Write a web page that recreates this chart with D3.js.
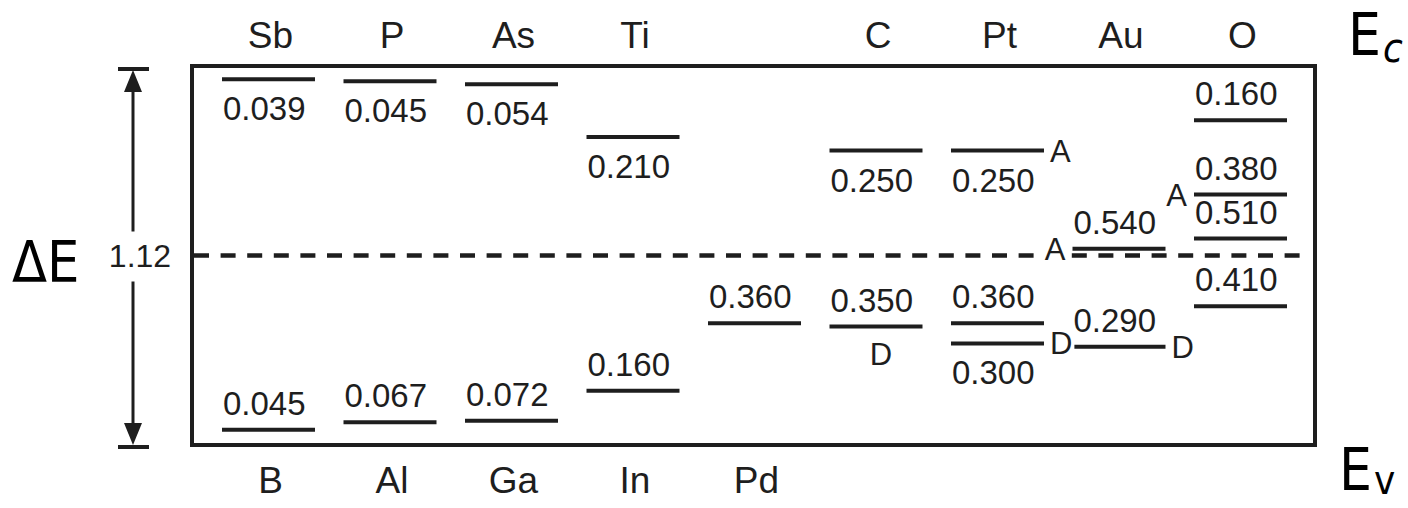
<!DOCTYPE html>
<html>
<head>
<meta charset="utf-8">
<script src="https://cdn.jsdelivr.net/npm/d3@7"></script>
<style>
  html, body { margin: 0; padding: 0; background: #fff; }
  svg { display: block; }
</style>
</head>
<body>
<svg id="chart" width="1408" height="508"></svg>
<script>
// Silicon band gap (eV)
const bandGap = 1.12;

// Impurity names above the box (measured from Ec) and below it (from Ev)
const topElements = ["Sb", "P", "As", "Ti", "", "C", "Pt", "Au", "O"];
const bottomElements = ["B", "Al", "Ga", "In", "Pd", "", "", "", ""];

// Levels near the conduction band: depth below Ec
const condLevels = [
    { col: 0, e: 0.039, place: "below" },
    { col: 1, e: 0.045, place: "below" },
    { col: 2, e: 0.054, place: "below" },
    { col: 3, e: 0.210, place: "below" },
    { col: 5, e: 0.250, place: "below" },
    { col: 6, e: 0.250, place: "below" },
    { col: 7, e: 0.540, place: "above" },
    { col: 8, e: 0.160, place: "above" },
    { col: 8, e: 0.380, place: "above" },
    { col: 8, e: 0.510, place: "above" }
];

// Levels near the valence band: height above Ev
const valLevels = [
    { col: 0, e: 0.045, place: "above" },
    { col: 1, e: 0.067, place: "above" },
    { col: 2, e: 0.072, place: "above" },
    { col: 3, e: 0.160, place: "above" },
    { col: 4, e: 0.360, place: "above" },
    { col: 5, e: 0.350, place: "above" },
    { col: 6, e: 0.360, place: "above" },
    { col: 6, e: 0.300, place: "below" },
    { col: 7, e: 0.290, place: "above" },
    { col: 8, e: 0.410, place: "above" }
];

// Acceptor / donor tags attached to some levels
const tags = [
    { col: 6, band: "c", e: 0.250, text: "A", side: "right" },
    { col: 7, band: "c", e: 0.540, text: "A", side: "left" },
    { col: 8, band: "c", e: 0.380, text: "A", side: "left" },
    { col: 5, band: "v", e: 0.350, text: "D", side: "below" },
    { col: 6, band: "v", e: 0.300, text: "D", side: "right" },
    { col: 7, band: "v", e: 0.290, text: "D", side: "right" }
];

const svg = d3.select("#chart");
const ink = "#1e1e1e";
const font = "'Liberation Sans', Arial, sans-serif";

const box = { left: 192, right: 1315, top: 66, bottom: 445 };

const x = d3.scaleBand()
    .domain(d3.range(topElements.length))
    .range([222, 1287])
    .paddingInner(0.2346)
    .paddingOuter(0);

const y = d3.scaleLinear()
    .domain([0, bandGap])
    .range([box.bottom, box.top]);

// all levels as energy above Ev
const levels = condLevels.map(d => ({ ...d, band: "c", ev: bandGap - d.e }))
    .concat(valLevels.map(d => ({ ...d, band: "v", ev: d.e })));

// frame
svg.append("rect")
    .attr("x", box.left)
    .attr("y", box.top)
    .attr("width", box.right - box.left)
    .attr("height", box.bottom - box.top)
    .attr("fill", "none")
    .attr("stroke", ink)
    .attr("stroke-width", 4);

// mid-gap line
svg.append("line")
    .attr("x1", box.left + 2)
    .attr("x2", box.right - 4)
    .attr("y1", y(bandGap / 2))
    .attr("y2", y(bandGap / 2))
    .attr("stroke", ink)
    .attr("stroke-width", 4.5)
    .attr("stroke-dasharray", "15,11.6");

// energy levels
svg.selectAll(".level")
    .data(levels)
    .enter()
    .append("line")
    .attr("class", "level")
    .attr("x1", d => x(d.col))
    .attr("x2", d => x(d.col) + x.bandwidth())
    .attr("y1", d => y(d.ev))
    .attr("y2", d => y(d.ev))
    .attr("stroke", ink)
    .attr("stroke-width", 4);

svg.selectAll(".levelText")
    .data(levels)
    .enter()
    .append("text")
    .attr("class", "levelText")
    .attr("x", d => x(d.col) + 1)
    .attr("y", d => y(d.ev) + (d.place === "below" ? 41 : -15))
    .attr("fill", ink)
    .style("font-family", font)
    .style("font-size", "33px")
    .text(d => d.e.toFixed(3));

// A / D tags (white backing so the mid-gap dashes break around them)
const tagG = svg.selectAll(".tag")
    .data(tags)
    .enter()
    .append("g")
    .attr("class", "tag");

tagG.append("text")
    .attr("x", d => {
        if (d.side === "right") return x(d.col) + x.bandwidth() + 6;
        if (d.side === "left") return x(d.col) - 7;
        return x(d.col) + x.bandwidth() / 2 + 5;
    })
    .attr("y", d => {
        const ly = y(d.band === "c" ? bandGap - d.e : d.e);
        return d.side === "below" ? ly + 38 : ly + 11;
    })
    .attr("text-anchor", d => d.side === "left" ? "end" : (d.side === "below" ? "middle" : "start"))
    .attr("fill", ink)
    .style("font-family", font)
    .style("font-size", "31px")
    .text(d => d.text);

tagG.each(function() {
    const g = d3.select(this);
    const bb = g.select("text").node().getBBox();
    g.insert("rect", "text")
        .attr("x", bb.x - 5)
        .attr("y", bb.y + 4)
        .attr("width", bb.width + 7)
        .attr("height", bb.height - 6)
        .attr("fill", "#fff");
});

// element names
svg.selectAll(".topName")
    .data(topElements)
    .enter()
    .append("text")
    .attr("class", "topName")
    .attr("x", (d, i) => x(i) + x.bandwidth() / 2 + 2)
    .attr("y", 48)
    .attr("text-anchor", "middle")
    .attr("fill", ink)
    .style("font-family", font)
    .style("font-size", "37px")
    .text(d => d);

svg.selectAll(".bottomName")
    .data(bottomElements)
    .enter()
    .append("text")
    .attr("class", "bottomName")
    .attr("x", (d, i) => x(i) + x.bandwidth() / 2 + 2)
    .attr("y", 493)
    .attr("text-anchor", "middle")
    .attr("fill", ink)
    .style("font-family", font)
    .style("font-size", "37px")
    .text(d => d);

// band gap arrow
const ax = 133;
const yTop = y(bandGap), yBot = y(0);
const midY = y(bandGap / 2);

svg.append("line")
    .attr("x1", ax - 15).attr("x2", ax + 16)
    .attr("y1", yTop + 3).attr("y2", yTop + 3)
    .attr("stroke", ink).attr("stroke-width", 4);
svg.append("line")
    .attr("x1", ax - 15).attr("x2", ax + 16)
    .attr("y1", yBot + 2).attr("y2", yBot + 2)
    .attr("stroke", ink).attr("stroke-width", 4);

svg.append("line")
    .attr("x1", ax).attr("x2", ax)
    .attr("y1", yTop + 22).attr("y2", midY - 24)
    .attr("stroke", ink).attr("stroke-width", 3);
svg.append("line")
    .attr("x1", ax).attr("x2", ax)
    .attr("y1", midY + 26).attr("y2", yBot - 20)
    .attr("stroke", ink).attr("stroke-width", 3);

svg.append("path")
    .attr("d", `M${ax},${yTop + 4} L${ax - 9},${yTop + 26} L${ax + 9},${yTop + 26} Z`)
    .attr("fill", ink);
svg.append("path")
    .attr("d", `M${ax},${yBot} L${ax - 9},${yBot - 22} L${ax + 9},${yBot - 22} Z`)
    .attr("fill", ink);

svg.append("text")
    .attr("x", 140)
    .attr("y", midY + 11)
    .attr("text-anchor", "middle")
    .attr("fill", ink)
    .style("font-family", font)
    .style("font-size", "32px")
    .text(bandGap.toFixed(2));

svg.append("text")
    .attr("x", 12)
    .attr("y", 282)
    .attr("fill", "#000")
    .style("font-family", "'DejaVu Sans Condensed', 'DejaVu Sans', sans-serif")
    .style("font-size", "57px")
    .text("ΔE");

// Ec / Ev
const bandLabels = [
    { main: "E", sub: "c", x: 1348, y: 55, subY: 62 },
    { main: "E", sub: "v", x: 1339, y: 490, subY: 494 }
];

bandLabels.forEach(b => {
    const t = svg.append("text")
        .attr("x", b.x)
        .attr("y", b.y)
        .attr("fill", "#000")
        .style("font-family", "'DejaVu Sans Condensed', 'DejaVu Sans', sans-serif")
        .style("font-size", "58px");
    t.append("tspan").text(b.main);
    t.append("tspan")
        .attr("dx", 2)
        .attr("y", b.subY)
        .style("font-size", "40px")
        .style("font-style", b.sub === "c" ? "italic" : "normal")
        .text(b.sub);
});
</script>
</body>
</html>
